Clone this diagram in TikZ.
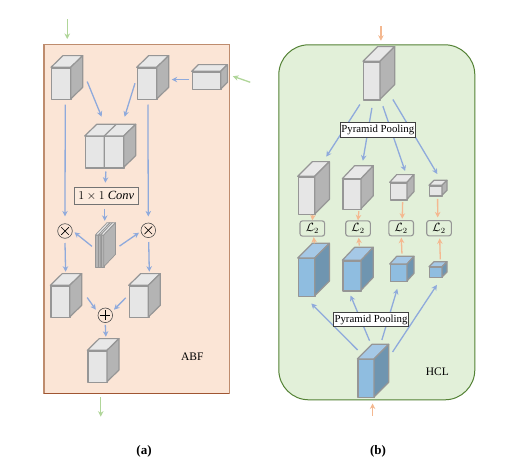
\documentclass[tikz,border=0pt]{standalone}
\usepackage{amsmath}
\usepackage{fontspec}
\setmainfont{Liberation Serif}
\usetikzlibrary{arrows.meta,calc}
\definecolor{blueArr}{HTML}{8FAADC}
\definecolor{greenArr}{HTML}{B0D699}
\definecolor{orangeArr}{HTML}{F4B890}
\definecolor{cubeEdge}{HTML}{969696}
\definecolor{grayFront}{HTML}{E6E6E6}
\definecolor{graySide}{HTML}{B4B4B4}
\definecolor{blueFront}{HTML}{8FBDE0}
\definecolor{blueTop}{HTML}{A5C8E6}
\definecolor{blueSide}{HTML}{6F95B0}
\tikzset{
  x=1pt,y=-1pt,
  arr/.style={line width=1.3pt,-{Stealth[length=5.5pt,width=5.5pt]},line cap=butt},
  barr/.style={arr,draw=blueArr},
  garr/.style={arr,draw=greenArr},
  oarr/.style={arr,draw=orangeArr},
  face/.style={draw=cubeEdge,line width=1.2pt,line join=round},
  thinface/.style={draw=cubeEdge,line width=0.7pt,line join=round},
  op/.style={circle,draw=black!70,line width=0.6pt,fill=none,inner sep=0pt,minimum size=14.6pt},
  lossbox/.style={draw=cubeEdge,line width=1.1pt,rounded corners=2.5pt,fill=none,inner sep=0pt,minimum width=24.6pt,minimum height=15.3pt,font=\fontsize{11.5}{12}\selectfont},
  ppbox/.style={draw=black!75,fill=white,line width=0.9pt,inner sep=0pt,font=\fontsize{10.8}{12}\selectfont},
  tag/.style={font=\fontsize{11.5}{13}\selectfont,inner sep=0pt},
  captext/.style={font=\fontsize{13}{15}\selectfont\bfseries,inner sep=0pt},
}
\newcommand{\grayc}[7]{%
  \node[face,fill=grayFront,inner sep=0pt,minimum width={(#4-#2)*1pt},minimum height={(#5-#3)*1pt},anchor=north west] (#1) at (#2,#3) {};
  \draw[face,fill=grayFront!90!white] (#2,#3) -- ++(#6,-#7) -- ++(#4-#2,0) -- (#4,#3) -- cycle;
  \draw[face,fill=graySide] (#4,#3) -- ++(#6,-#7) -- ++(0,#5-#3) -- (#4,#5) -- cycle;
}
\newcommand{\bluec}[7]{%
  \node[face,fill=blueFront,inner sep=0pt,minimum width={(#4-#2)*1pt},minimum height={(#5-#3)*1pt},anchor=north west] (#1) at (#2,#3) {};
  \draw[face,fill=blueTop] (#2,#3) -- ++(#6,-#7) -- ++(#4-#2,0) -- (#4,#3) -- cycle;
  \draw[face,fill=blueSide] (#4,#3) -- ++(#6,-#7) -- ++(0,#5-#3) -- (#4,#5) -- cycle;
}
\newcommand{\slab}[5]{%
  \node[thinface,fill=graySide,inner sep=0pt,minimum width={(#4-#2)*1pt},minimum height={(#5-#3)*1pt},anchor=north west] (#1) at (#2,#3) {};
  \draw[thinface,fill=grayFront] (#2,#3) -- ++(11.7,-12.3) -- ++(#4-#2,0) -- (#4,#3) -- cycle;
  \draw[thinface,fill=graySide] (#4,#3) -- ++(11.7,-12.3) -- ++(0,#5-#3) -- (#4,#5) -- cycle;
}
\begin{document}
\begin{tikzpicture}
\useasboundingbox (0,0) rectangle (532,463);
\fill[white] (0,0) rectangle (532,463);
% ---- panels
\node[draw=none,fill={rgb,255:red,251;green,229;blue,214},inner sep=0pt,minimum width=185pt,minimum height=348.5pt,anchor=north west] (panelA) at (44,44.7) {};
\draw[line width=1.1pt,draw={rgb,255:red,190;green,140;blue,110}] (panelA.south west) -- (panelA.north west) -- (panelA.north east) -- (panelA.south east);
\draw[line width=1.1pt,draw={rgb,255:red,160;green,85;blue,50}] (panelA.south west) -- (panelA.south east);
\node[draw={rgb,255:red,84;green,130;blue,53},fill={rgb,255:red,226;green,240;blue,217},line width=1pt,rounded corners=30pt,inner sep=0pt,minimum width=196pt,minimum height=355pt,anchor=north west] (panelB) at (278.3,44.3) {};
% ---- (a) cubes
\grayc{aone}{51}{67.3}{70.7}{99}{12}{11.7}
\grayc{atwo}{136.7}{67.3}{156.7}{99}{12}{11.7}
\grayc{athree}{191.7}{71.3}{220.7}{89}{6.7}{6.7}
\grayc{dbl}{84.7}{136}{123.7}{167.3}{12}{11.7}
\draw[face] (104.2,136) -- (104.2,167.3) (104.2,136) -- ++(12,-11.7);
\grayc{bone}{50.3}{285.3}{69.7}{317}{12}{11.7}
\grayc{btwo}{128.7}{285.3}{148.3}{317}{12}{11.7}
\grayc{cfin}{87.3}{350.3}{107}{381.7}{12}{11.7}
% stack
\slab{sa}{95.3}{235}{98.4}{266.7}
\slab{sb}{98.4}{235}{100.6}{266.7}
\slab{sc}{100.6}{235}{103.8}{266.7}
\node[draw=black!55,line width=1.1pt,fill={rgb,255:red,252;green,235;blue,222},inner sep=0pt,minimum width=64pt,minimum height=16.6pt,font=\fontsize{12.5}{14}\selectfont] (conv) at (106.3,196) {$1\times 1\ \mathit{Conv}$};
\node[op] (mulL) at (65,231) {};
\node[op] (mulR) at (148.3,230.3) {};
\node[op] (addN) at (105.3,315.3) {};
\draw[line width=0.7pt] ($(mulL)+(-3.8,-3.8)$) -- ($(mulL)+(3.8,3.8)$) ($(mulL)+(-3.8,3.8)$) -- ($(mulL)+(3.8,-3.8)$);
\draw[line width=0.7pt] ($(mulR)+(-3.8,-3.8)$) -- ($(mulR)+(3.8,3.8)$) ($(mulR)+(-3.8,3.8)$) -- ($(mulR)+(3.8,-3.8)$);
\draw[line width=0.7pt] ($(addN)+(-5,0)$) -- ($(addN)+(5,0)$) ($(addN)+(0,-5)$) -- ($(addN)+(0,5)$);
\node[tag] (abf) at (192.3,356.7) {ABF};
% ---- (a) arrows
\draw[garr] ($(aone.north)+(5.8,-48)$) -- ($(aone.north)+(5.8,-28.3)$);
\draw[garr] ($(athree.east)+(28.3,1.5)$) -- ($(athree.east)+(11,-4.5)$);
\draw[barr] ($(athree.west)+(-2.7,-1.2)$) -- ($(athree.west)+(-20,-1.2)$);
\draw[barr] ($(aone.east)+(15.3,-2.2)$) -- ($(dbl.north)+(-3.2,-19.3)$);
\draw[barr] ($(atwo.west)+(-1.7,-0.5)$) -- ($(dbl.north)+(19.8,-19.3)$);
\draw[barr] ($(dbl.south)+(1.1,3)$) -- ($(conv.north)+(-1,-4.4)$);
\draw[barr] ($(aone.south)+(3.8,4.3)$) -- ($(mulL.north)+(0,-7)$);
\draw[barr] ($(atwo.south)+(0.6,4.3)$) -- ($(mulR.north)+(0,-6.3)$);
\draw[barr] ($(conv.south)+(-1.6,4)$) -- ($(conv.south)+(-1.6,16)$);
\draw[barr] ($(sa.west)+(-3.3,-4.8)$) -- ($(mulL.east)+(1.9,1.3)$);
\draw[barr] ($(sc.east)+(15,-5.1)$) -- ($(mulR.west)+(-1.7,2.4)$);
\draw[barr] ($(mulL.south)+(0,4.4)$) -- ($(bone.north)+(5,-13.6)$);
\draw[barr] ($(mulR.south)+(0.4,4.1)$) -- ($(btwo.north)+(10.2,-13.6)$);
\draw[barr] ($(bone.east)+(16.3,-4.2)$) -- ($(addN.west)+(-1.9,-5.6)$);
\draw[barr] ($(btwo.west)+(-3,-3.9)$) -- ($(addN.east)+(1.1,-5.6)$);
\draw[barr] ($(addN.south)+(0,2)$) -- ($(cfin.north)+(8.1,-13.6)$);
\draw[garr] ($(panelA.south)+(-36,3.7)$) -- ($(panelA.south)+(-36,23)$);
% ---- (b) cubes
\grayc{top}{363}{61.3}{380}{99.3}{14.7}{14.7}
\grayc{ga}{297.7}{176.3}{314.7}{214}{14.7}{14.7}
\grayc{gb}{342.3}{178.7}{361}{208.7}{12.3}{13}
\grayc{gc}{389.7}{182.3}{407}{199.3}{7}{7.7}
\grayc{gd}{429}{185.3}{442}{195.3}{5}{5}
\bluec{ba}{297.7}{258}{314.7}{295.7}{14.7}{14.7}
\bluec{bb}{342.3}{260.3}{361}{290.3}{12.3}{13}
\bluec{bc}{389.7}{264}{407}{281}{7}{7.7}
\bluec{bd}{429}{266.7}{442}{277}{5}{5}
\bluec{bot}{357.3}{359}{374}{397}{14.7}{14.7}
\node[lossbox] (la) at (312.3,228.5) {$\mathcal{L}_2$};
\node[lossbox] (lb) at (358,228.5) {$\mathcal{L}_2$};
\node[lossbox] (lc) at (401.2,228.2) {$\mathcal{L}_2$};
\node[lossbox] (ld) at (439,228.2) {$\mathcal{L}_2$};
\node[tag] (hcl) at (437.3,371.7) {HCL};
% ---- (b) arrows
\draw[barr] ($(top.south)+(-12.2,4)$) -- ($(ga.north)+(19.5,-19.6)$);
\draw[barr] ($(top.south)+(-0.2,7.4)$) -- ($(gb.north)+(10.6,-18)$);
\draw[barr] ($(top.south)+(10.8,5.7)$) -- ($(gc.north)+(6.1,-11.3)$);
\draw[barr] ($(top.south)+(20.8,-1)$) -- ($(gd.north)+(1.2,-11.3)$);
\draw[barr] ($(bot.north)+(-8.6,-9)$) -- ($(ba.south)+(4.5,6.6)$);
\draw[barr] ($(bot.north)+(3.3,-18.3)$) -- ($(bb.south)+(-1.7,4)$);
\draw[barr] ($(bot.north)+(15.6,-19)$) -- ($(bc.south)+(-1.7,6.7)$);
\draw[barr] ($(bot.north)+(26.3,-7)$) -- ($(bd.south)+(0.8,6.7)$);
\node[ppbox,minimum width=75pt,minimum height=14.3pt] (ppa) at (377.8,129.9) {Pyramid Pooling};
\node[ppbox,minimum width=74.6pt,minimum height=14pt] (ppb) at (371,319.7) {Pyramid Pooling};
\draw[oarr] ($(top.north)+(8.8,-35.3)$) -- ($(top.north)+(8.8,-20.6)$);
\draw[oarr] ($(ga.south)+(6.1,0)$) -- ($(la.north)+(0,0)$);
\draw[oarr] ($(gb.south)+(6.6,1.3)$) -- (lb.north);
\draw[oarr] ($(gc.south)+(3.7,1.7)$) -- ($(lc.north)+(1,-1.3)$);
\draw[oarr] ($(gd.south)+(1.5,2.4)$) -- ($(ld.north)+(-1.3,-2.6)$);
\draw[oarr] ($(ba.north)+(7.5,-14.7)$) -- ($(la.south)+(1.4,0.4)$);
\draw[oarr] ($(bb.north)+(7,-14.6)$) -- ($(lb.south)+(0.7,1)$);
\draw[oarr] ($(bc.north)+(3,-10.3)$) -- ($(lc.south)+(0.1,1.2)$);
\draw[oarr] ($(bd.north)+(4.2,-7.4)$) -- ($(ld.south)+(0.7,2)$);
\draw[oarr] ($(bot.south)+(6.3,17.7)$) -- ($(bot.south)+(6.3,5.3)$);
% ---- captions
\node[captext] (capa) at (144,451) {(a)};
\node[captext] (capb) at (378,451) {(b)};
\end{tikzpicture}
\end{document}
